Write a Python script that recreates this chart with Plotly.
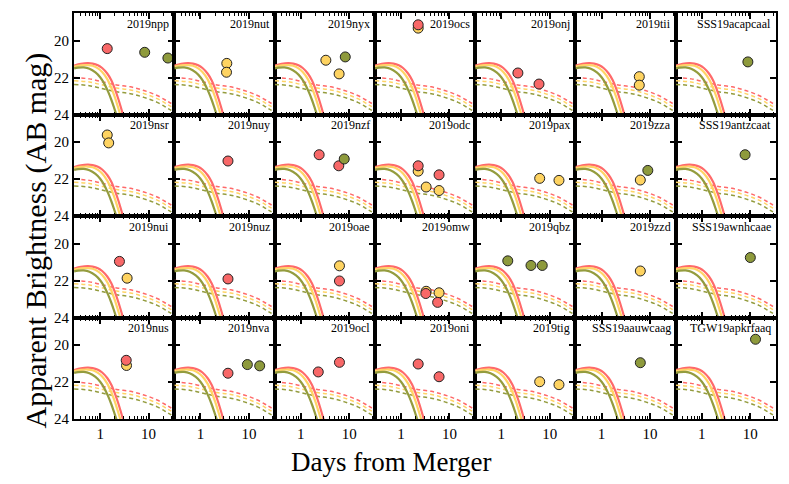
import plotly.graph_objects as go
from plotly.subplots import make_subplots

# panel names, row by row
names = ['2019npp', '2019nut', '2019nyx', '2019ocs', '2019onj', '2019tii', 'SSS19acapcaal',
         '2019nsr', '2019nuy', '2019nzf', '2019odc', '2019pax', '2019zza', 'SSS19antzcaat',
         '2019nui', '2019nuz', '2019oae', '2019omw', '2019qbz', '2019zzd', 'SSS19awnhcaae',
         '2019nus', '2019nva', '2019ocl', '2019oni', '2019tig', 'SSS19aauwcaag', 'TGW19apkrfaaq']

# observed points (days, AB mag) per panel and colour
red_days = [[1.4], [], [], [2.26], [2.2, 6.0], [], [],
            [], [3.7], [2.4, 6.1], [2.26, 6.1], [], [], [],
            [2.5], [3.7], [6.3], [3.25, 5.7], [], [], [],
            [3.45], [3.7], [2.3, 6.3], [2.26, 6.1], [], [], []]
red_mags = [[20.43], [], [], [19.14], [21.75, 22.35], [], [],
            [], [21.02], [20.68, 21.28], [21.28, 21.77], [], [], [],
            [20.96], [21.91], [22.02], [22.7, 23.18], [], [], [],
            [20.82], [21.52], [21.45, 20.93], [21.02, 21.71], [], [], []]
yellow_days = [[], [3.5, 3.45], [3.3, 6.2], [2.26], [], [6.0, 6.0], [],
               [1.4, 1.5], [], [], [2.26, 3.3, 6.1], [6.2, 15.5], [6.3], [],
               [3.6], [], [6.3], [3.3, 6.1], [], [6.3], [],
               [3.5], [], [], [], [6.2, 15.5], [], []]
yellow_mags = [[], [21.23, 21.71], [21.06, 21.8], [19.32], [], [21.95, 22.41], [],
               [19.61, 20.04], [], [], [21.57, 22.43, 22.62], [21.96, 22.07], [22.05], [],
               [21.87], [], [21.2], [22.58, 22.66], [], [21.48], [],
               [21.1], [], [], [], [21.98, 22.14], [], []]
green_days = [[8.3, 25], [], [8.3], [], [], [], [8.9],
              [], [], [7.9], [], [], [9.0], [7.8],
              [], [], [], [], [1.36, 4.1, 7.0], [], [10],
              [], [9.3, 16.7], [], [], [], [6.3], [12.8]]
green_mags = [[20.63, 20.94], [], [20.88], [], [], [], [21.15],
              [], [], [20.91], [], [], [21.53], [20.68],
              [], [], [], [], [20.93, 21.18, 21.18], [], [20.75],
              [], [21.05, 21.12], [], [], [], [20.95], [19.68]]

# kilonova model curves (solid)
kn_red_t = [0.29, 0.4, 0.55, 0.7, 0.9, 1.1, 1.4, 1.7, 2.0, 2.4, 2.7, 3.1]
kn_red_m = [21.35, 21.26, 21.22, 21.24, 21.33, 21.48, 21.78, 22.15, 22.6, 23.2, 23.65, 24.2]
kn_yel_t = [0.29, 0.4, 0.55, 0.7, 0.9, 1.1, 1.4, 1.7, 2.0, 2.3, 2.75]
kn_yel_m = [21.4, 21.34, 21.32, 21.36, 21.5, 21.7, 22.08, 22.55, 23.05, 23.55, 24.2]
kn_grn_t = [0.29, 0.35, 0.46, 0.6, 0.8, 1.0, 1.2, 1.45, 1.7, 1.95, 2.25]
kn_grn_m = [21.5, 21.46, 21.45, 21.52, 21.72, 21.98, 22.3, 22.75, 23.2, 23.65, 24.15]

# afterglow-like curves (dashed)
ag_t = [0.29, 0.6, 1.2, 2.2, 4.2, 8.0, 15, 25, 34]
ag_red_m = [22.0, 22.07, 22.25, 22.4, 22.5, 22.7, 22.97, 23.3, 23.5]
ag_yel_m = [22.17, 22.24, 22.42, 22.57, 22.67, 22.87, 23.14, 23.47, 23.67]
ag_grn_m = [22.37, 22.44, 22.62, 22.77, 22.87, 23.07, 23.34, 23.67, 23.87]

RED, YEL, GRN = '#f86868', '#fed361', '#8e9a3c'
LRED, LYEL, LGRN = '#ff6a6a', '#ffd466', '#949c3e'
FONT = 'Liberation Serif'

nrows, ncols = 4, 7
fig = make_subplots(rows=nrows, cols=ncols, horizontal_spacing=0, vertical_spacing=0)

for i, name in enumerate(names):
    r, c = i // ncols + 1, i % ncols + 1
    for t, m, col in [(ag_t, ag_grn_m, LGRN), (ag_t, ag_yel_m, LYEL), (ag_t, ag_red_m, LRED)]:
        fig.add_trace(go.Scatter(x=t, y=m, mode='lines', line=dict(color=col, width=1.5, dash='4px,3px', shape='spline'),
                                 showlegend=False, hoverinfo='skip'), row=r, col=c)
    for t, m, col in [(kn_red_t, kn_red_m, LRED), (kn_yel_t, kn_yel_m, LYEL), (kn_grn_t, kn_grn_m, LGRN)]:
        fig.add_trace(go.Scatter(x=t, y=m, mode='lines', line=dict(color=col, width=2.2, shape='spline'),
                                 showlegend=False, hoverinfo='skip'), row=r, col=c)
    for d, m, col in [(yellow_days[i], yellow_mags[i], YEL), (red_days[i], red_mags[i], RED),
                      (green_days[i], green_mags[i], GRN)]:
        if d:
            fig.add_trace(go.Scatter(x=d, y=m, mode='markers',
                                     marker=dict(color=col, size=10, line=dict(color='#222', width=1)),
                                     showlegend=False), row=r, col=c)
    fig.add_annotation(text=name, xref='x%s domain' % (i + 1 if i else ''), yref='y%s domain' % (i + 1 if i else ''),
                       x=0.97, y=0.985, xanchor='right', yanchor='top', showarrow=False,
                       font=dict(family=FONT, size=12, color='black'))

minor_vals = [0.3, 0.4, 0.5, 0.6, 0.7, 0.8, 0.9, 2, 3, 4, 5, 6, 7, 8, 9, 20, 30]
fig.update_xaxes(type='log', range=[-0.54, 1.53], tickvals=[1, 10], ticktext=['1', '10'],
                 ticks='inside', ticklen=6, tickwidth=2, tickcolor='black',
                 minor=dict(tickvals=minor_vals, ticks='inside', ticklen=3, tickwidth=1, tickcolor='black'),
                 showline=True, linewidth=2, linecolor='black', mirror='allticks',
                 showgrid=False, zeroline=False, showticklabels=False)
fig.update_yaxes(range=[24, 18.5], tickvals=[20, 22, 24],
                 ticks='inside', ticklen=6, tickwidth=2, tickcolor='black',
                 showline=True, linewidth=2, linecolor='black', mirror='allticks',
                 showgrid=False, zeroline=False, showticklabels=False)
for c in range(1, ncols + 1):
    fig.update_xaxes(showticklabels=True, tickfont=dict(family=FONT, size=15, color='black'), row=nrows, col=c)
for r in range(1, nrows + 1):
    fig.update_yaxes(showticklabels=True, tickfont=dict(family=FONT, size=15, color='black'), row=r, col=1)

fig.add_annotation(text='Apparent Brightness (AB mag)', xref='paper', yref='paper', x=-0.054, y=0.44,
                   xanchor='center', yanchor='middle', textangle=-90, showarrow=False,
                   font=dict(family=FONT, size=30, color='black'))
fig.add_annotation(text='Days from Merger', xref='paper', yref='paper', x=0.452, y=-0.105,
                   xanchor='center', yanchor='middle', showarrow=False,
                   font=dict(family=FONT, size=27, color='black'))

fig.update_layout(width=789, height=484, margin=dict(l=74, r=13, t=11, b=65),
                  plot_bgcolor='white', paper_bgcolor='white', font=dict(family=FONT))

fig.write_html('out.html', config={'displayModeBar': False}, post_script="document.body.style.margin='0';")
